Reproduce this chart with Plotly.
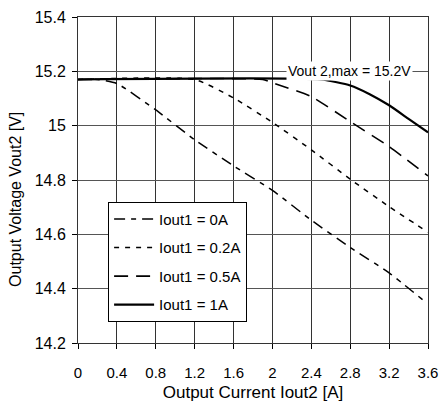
import plotly.graph_objects as go

# Data
x_0A = [0.0, 0.2, 0.4, 0.8, 1.2, 1.6, 2.0, 2.4, 2.8, 3.2, 3.55]
y_0A = [15.17, 15.17, 15.155, 15.058, 14.948, 14.852, 14.762, 14.652, 14.552, 14.458, 14.358]

x_02A = [0.0, 1.2, 1.6, 2.0, 2.4, 2.8, 3.2, 3.6]
y_02A = [15.17, 15.17, 15.102, 15.012, 14.911, 14.803, 14.702, 14.608]

x_05A = [0.0, 1.9, 2.0, 2.4, 2.8, 3.2, 3.6]
y_05A = [15.17, 15.17, 15.158, 15.107, 15.015, 14.923, 14.815]

x_1A = [0.0, 2.5, 2.8, 3.0, 3.2, 3.4, 3.6]
y_1A = [15.17, 15.17, 15.148, 15.116, 15.075, 15.025, 14.975]

series = [
    ("Iout1 = 0A", x_0A, y_0A, "11px,6px,5px,6px", 1.5),
    ("Iout1 = 0.2A", x_02A, y_02A, "5px,6px", 1.5),
    ("Iout1 = 0.5A", x_05A, y_05A, "14px,8px", 1.6),
    ("Iout1 = 1A", x_1A, y_1A, "solid", 2.2),
]

x_ticks = [0, 0.4, 0.8, 1.2, 1.6, 2, 2.4, 2.8, 3.2, 3.6]
x_ticklabels = ["0", "0.4", "0.8", "1.2", "1.6", "2", "2.4", "2.8", "3.2", "3.6"]
y_ticks = [14.2, 14.4, 14.6, 14.8, 15.0, 15.2, 15.4]
y_ticklabels = ["14.2", "14.4", "14.6", "14.8", "15", "15.2", "15.4"]

annotation_text = "Vout 2,max = 15.2V"
x_title = "Output Current Iout2 [A]"
y_title = "Output Voltage Vout2 [V]"

fig = go.Figure()
for i, (name, xs, ys, dash, w) in enumerate(series):
    fig.add_trace(go.Scatter(x=xs, y=ys, mode="lines", name=name,
                             legendgroup="g%d" % i,
                             line=dict(color="black", width=w, dash=dash,
                                       shape="spline", smoothing=0.5)))

font_family = "Liberation Sans, Arial, sans-serif"

fig.update_layout(
    width=440, height=408,
    margin=dict(l=78, r=12, t=17, b=65, autoexpand=False),
    paper_bgcolor="white", plot_bgcolor="white",
    font=dict(family=font_family, size=16, color="black"),
    showlegend=True,
    legend=dict(x=0.086, y=0.433, xanchor="left", yanchor="top",
                bgcolor="white", bordercolor="black", borderwidth=1,
                font=dict(size=15), tracegroupgap=6, itemwidth=40),
    xaxis=dict(range=[0, 3.6], tickvals=x_ticks, ticktext=x_ticklabels,
               showgrid=True, gridcolor="#333333", gridwidth=1,
               showline=True, linecolor="#333333", linewidth=1, mirror=True,
               ticks="outside", ticklen=5, tickcolor="black",
               ticklabelstandoff=11, automargin=False,
               tickfont=dict(size=15),
               zeroline=False,
               title=dict(text=x_title, standoff=6, font=dict(size=17))),
    yaxis=dict(range=[14.2, 15.4], tickvals=y_ticks, ticktext=y_ticklabels,
               showgrid=True, gridcolor="#555555", gridwidth=1,
               showline=True, linecolor="#333333", linewidth=1, mirror=True,
               ticks="outside", ticklen=5, tickcolor="black",
               ticklabelstandoff=3, automargin=False,
               zeroline=False),
    annotations=[
        dict(x=3.45, y=15.2, xref="x", yref="y", xanchor="right",
             text=annotation_text, showarrow=False, bgcolor="white", borderpad=1,
             font=dict(size=14, family=font_family)),
        dict(x=-0.177, y=0.439, xref="paper", yref="paper", xanchor="center",
             yanchor="middle", textangle=-90, text=y_title, showarrow=False,
             font=dict(size=16, family=font_family)),
    ],
)

fig.write_html("out.html",
               config={"displayModeBar": False},
               post_script="document.body.style.margin='0';document.body.style.overflow='hidden';")
